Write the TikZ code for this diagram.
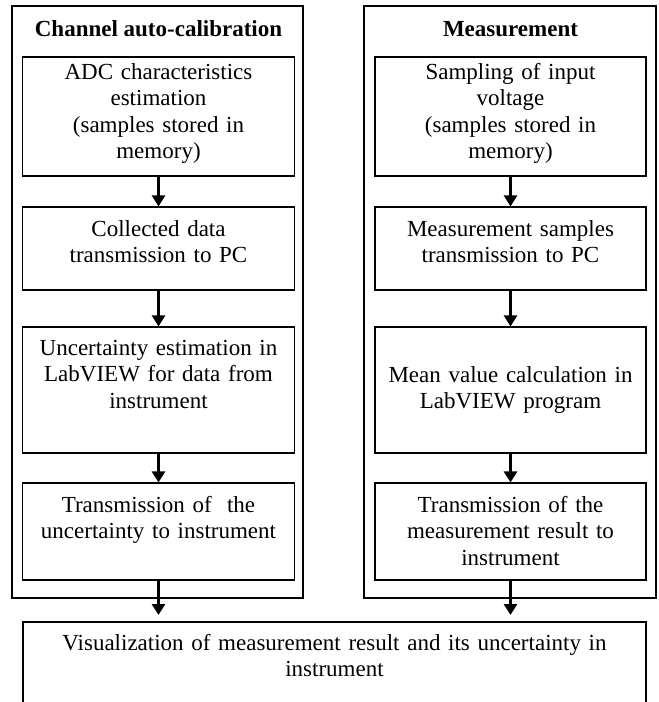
\documentclass[tikz,border=0pt]{standalone}
\usepackage{fontspec}
\setmainfont{Liberation Serif}
\usetikzlibrary{arrows.meta}
\pgfdeclarelayer{bg}
\pgfsetlayers{bg,main}
\tikzset{
    every node/.style={inner sep=0mm, font=\fontsize{23}{26.5}\selectfont}
}
\tikzset{box/.style={rectangle, draw, line width=1.1pt}}
\tikzset{txt/.style={text width=266pt, align=center, anchor=base}}
\tikzset{flow/.style={line width=2.6pt, -{Triangle[length=11pt, width=13pt]}}}

\begin{document}
\begin{tikzpicture}[x=1pt, y=-1pt]
        \useasboundingbox (0,0) rectangle (659,702);
        \clip (0,0) rectangle (659,702);
        % the two stages
        \node (c0) [box, minimum width=291pt, minimum height=592pt] at (157.5,302) {};
        \node (m0) [box, minimum width=292pt, minimum height=592pt] at (510,302) {};
        \node (c0t) [anchor=base, font=\fontsize{23}{26.5}\selectfont\bfseries] at (158.5,36) {Channel auto-calibration};
        \node (m0t) [anchor=base, font=\fontsize{23}{26.5}\selectfont\bfseries] at (510.5,36) {Measurement};
        % left column
        \node (c1) [box, minimum width=272pt, minimum height=119pt] at (158.5,116.5) {};
        \node (c2) [box, minimum width=272pt, minimum height=83pt] at (158.5,248.5) {};
        \node (c3) [box, minimum width=272pt, minimum height=126pt] at (158.5,390) {};
        \node (c4) [box, minimum width=272pt, minimum height=97pt] at (158.5,531.5) {};
        \node (c1t) [txt] at (158.5,79) {ADC characteristics\\ estimation\\ (samples stored in\\ memory)};
        \node (c2t) [txt] at (158.5,236) {Collected data\\ transmission to PC};
        \node (c3t) [txt] at (158.5,355) {Uncertainty estimation in\\ LabVIEW for data from\\ instrument};
        \node (c4t) [txt] at (158.5,512) {Transmission of~ the\\ uncertainty to instrument};
        % right column
        \node (m1) [box, minimum width=271pt, minimum height=119pt] at (510.5,116.5) {};
        \node (m2) [box, minimum width=271pt, minimum height=83pt] at (510.5,248.5) {};
        \node (m3) [box, minimum width=271pt, minimum height=126pt] at (510.5,390) {};
        \node (m4) [box, minimum width=271pt, minimum height=97pt] at (510.5,531.5) {};
        \node (m1t) [txt] at (510.5,79) {Sampling of input\\ voltage\\ (samples stored in\\ memory)};
        \node (m2t) [txt] at (510.5,236) {Measurement samples\\ transmission to PC};
        \node (m3t) [txt] at (510.5,382) {Mean value calculation in\\ LabVIEW program};
        \node (m4t) [txt] at (510.5,512) {Transmission of the\\ measurement result to\\ instrument};
        % result
        \node (fin) [box, minimum width=623pt, minimum height=100pt] at (334.5,672) {};
        \node (fint) [txt, text width=600pt] at (334.5,650) {Visualization of measurement result and its uncertainty in\\ instrument};
        \coordinate (e1) at (158.5,615);
        \coordinate (e2) at (510.5,615);
        \begin{pgfonlayer}{bg}
                \draw (c1) edge [flow] (c2);
                \draw (c2) edge [flow] (c3);
                \draw (c3) edge [flow] (c4);
                \draw (c4) edge [flow] (e1);
                \draw (m1) edge [flow] (m2);
                \draw (m2) edge [flow] (m3);
                \draw (m3) edge [flow] (m4);
                \draw (m4) edge [flow] (e2);
        \end{pgfonlayer}
\end{tikzpicture}
\end{document}
